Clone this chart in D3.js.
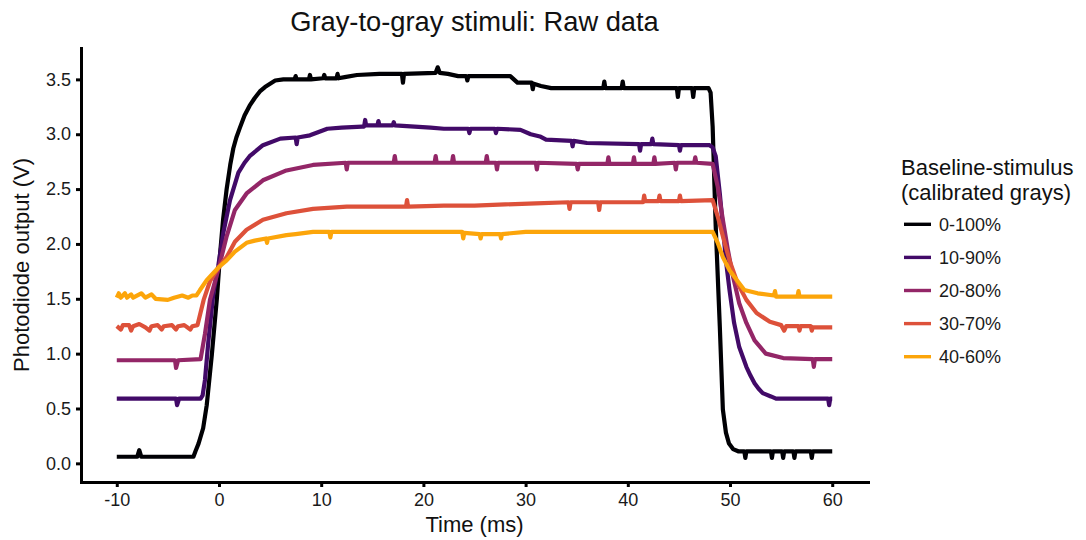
<!DOCTYPE html>
<html>
<head>
<meta charset="utf-8">
<script src="https://cdn.jsdelivr.net/npm/d3@7"></script>
<style>
  body { margin: 0; background: #fff; }
  text { font-family: "Liberation Sans", Arial, sans-serif; }
</style>
</head>
<body>
<script>

// series names + colours (inferno, 0 to 0.8)
var groups = ["0-100%", "10-90%", "20-80%", "30-70%", "40-60%"];
var colors = ["#000004", "#420A68", "#932667", "#DD513A", "#FCA50A"];

var xTicks = [-10, 0, 10, 20, 30, 40, 50, 60];
var xTickLabels = ["-10", "0", "10", "20", "30", "40", "50", "60"];
var yTicks = [0, 0.5, 1, 1.5, 2, 2.5, 3, 3.5];
var yTickLabels = ["0.0", "0.5", "1.0", "1.5", "2.0", "2.5", "3.0", "3.5"];

// [time (ms), output (V)]
var d0_100 = [[-10,0.06],[-8.0,0.06],[-7.8,0.12],[-7.6,0.06],[-2.5,0.06],[-2.3,0.11],[-2.0,0.18],[-1.55,0.32],[-1.2,0.53],[-0.7,0.99],[-0.2,1.51],[0.1,1.90],[0.4,2.22],[0.75,2.50],[1.1,2.72],[1.4,2.87],[1.7,2.97],[2.05,3.06],[2.5,3.17],[3.0,3.26],[3.5,3.33],[4.0,3.39],[4.5,3.43],[5.0,3.46],[5.5,3.49],[6.3,3.50],[7.4,3.50],[7.5,3.53],[7.6,3.50],[8.8,3.50],[8.9,3.54],[9.0,3.50],[10.2,3.51],[10.3,3.54],[10.4,3.51],[11.5,3.51],[11.6,3.55],[11.7,3.51],[12.3,3.52],[13.5,3.54],[15.7,3.55],[17.9,3.55],[18.0,3.47],[18.1,3.55],[21.2,3.56],[21.4,3.61],[21.6,3.56],[22.4,3.55],[23.4,3.53],[24.2,3.53],[24.3,3.49],[24.4,3.53],[28.5,3.53],[29.2,3.47],[30.6,3.47],[30.7,3.41],[30.8,3.46],[31.5,3.44],[32.5,3.42],[37.6,3.42],[37.7,3.48],[37.8,3.42],[39.4,3.42],[39.5,3.48],[39.6,3.42],[44.8,3.42],[44.9,3.34],[45.0,3.42],[46.3,3.42],[46.4,3.34],[46.5,3.42],[47.9,3.42],[48.1,3.38],[48.3,3.07],[48.6,2.16],[49.0,1.25],[49.3,0.49],[49.6,0.28],[49.9,0.18],[50.3,0.13],[50.8,0.11],[51.4,0.11],[51.5,0.05],[51.6,0.11],[54.0,0.11],[54.1,0.05],[54.2,0.11],[55.1,0.11],[55.2,0.05],[55.3,0.11],[56.2,0.11],[56.3,0.05],[56.4,0.11],[57.9,0.11],[58.0,0.05],[58.1,0.11],[60,0.11]];

var d10_90 = [[-10,0.59],[-4.2,0.59],[-4.1,0.53],[-3.9,0.59],[-1.8,0.59],[-1.6,0.62],[-1.37,0.76],[-1.05,1.10],[-0.55,1.55],[-0.07,1.80],[0.42,2.10],[1.08,2.40],[1.9,2.65],[2.5,2.74],[3.0,2.80],[4.3,2.90],[6.0,2.96],[7.5,2.97],[7.6,2.91],[7.7,2.97],[8.9,2.99],[10.6,3.05],[12.0,3.06],[14.0,3.07],[14.2,3.07],[14.3,3.13],[14.4,3.08],[15.5,3.08],[15.6,3.12],[15.7,3.08],[17.0,3.08],[17.1,3.11],[17.2,3.08],[20.7,3.06],[22.0,3.05],[24.4,3.05],[24.5,3.01],[24.6,3.05],[27.0,3.05],[27.1,3.01],[27.2,3.05],[29.5,3.04],[30.5,3.00],[31.4,2.98],[32.0,2.95],[34.5,2.94],[34.6,2.89],[34.7,2.94],[36.0,2.92],[41.1,2.91],[41.2,2.85],[41.3,2.91],[42.3,2.91],[42.4,2.96],[42.5,2.91],[45.0,2.90],[45.1,2.85],[45.2,2.90],[48.0,2.90],[48.3,2.88],[48.6,2.80],[49.0,2.46],[49.3,2.16],[49.6,1.85],[49.95,1.58],[50.4,1.28],[50.9,1.06],[51.6,0.88],[52.0,0.80],[52.4,0.73],[52.8,0.68],[53.2,0.64],[54.0,0.61],[54.5,0.59],[59.6,0.59],[59.7,0.53],[59.8,0.59],[60,0.59]];

var d20_80 = [[-10,0.94],[-4.3,0.94],[-4.2,0.87],[-4.0,0.94],[-1.8,0.95],[-1.37,1.18],[-0.88,1.49],[0,1.79],[0.75,2.07],[1.56,2.31],[2.7,2.46],[4.3,2.58],[6.6,2.67],[9.2,2.72],[12.4,2.74],[12.5,2.68],[12.6,2.74],[15,2.74],[17.1,2.74],[17.2,2.80],[17.3,2.74],[21.1,2.74],[21.2,2.80],[21.3,2.74],[22.8,2.74],[22.9,2.80],[23.0,2.74],[26.1,2.74],[26.2,2.80],[26.3,2.74],[27.1,2.74],[27.2,2.68],[27.3,2.74],[31.0,2.74],[31.1,2.68],[31.2,2.74],[35.0,2.73],[35.1,2.68],[35.2,2.73],[38.0,2.73],[38.1,2.79],[38.2,2.73],[40.5,2.73],[40.6,2.79],[40.7,2.73],[42.5,2.73],[42.6,2.79],[42.7,2.73],[44.6,2.74],[44.7,2.68],[44.8,2.74],[46.5,2.74],[46.6,2.79],[46.7,2.74],[48.3,2.73],[48.8,2.52],[49.3,2.22],[49.8,1.94],[50.3,1.70],[50.9,1.46],[51.6,1.28],[52.4,1.12],[53.5,1.00],[55.2,0.96],[58.1,0.95],[58.2,0.88],[58.3,0.95],[60,0.95]];

var d30_70 = [[-10,1.25],[-9.6,1.22],[-9.4,1.26],[-8.8,1.26],[-8.6,1.21],[-8.4,1.25],[-7.8,1.27],[-7.2,1.24],[-6.8,1.21],[-6.6,1.25],[-6.0,1.26],[-5.6,1.22],[-5.4,1.25],[-4.6,1.26],[-4.2,1.22],[-4.0,1.25],[-3.4,1.26],[-2.8,1.22],[-2.6,1.25],[-2.1,1.26],[-1.5,1.49],[-0.88,1.66],[0,1.79],[0.75,1.88],[1.56,2.02],[2.7,2.13],[4.3,2.22],[6.6,2.28],[9.2,2.32],[12.5,2.34],[18.3,2.34],[18.4,2.40],[18.5,2.34],[22,2.35],[25,2.35],[28,2.36],[31,2.37],[34.2,2.38],[34.3,2.32],[34.4,2.38],[37.1,2.38],[37.2,2.31],[37.3,2.38],[41.5,2.38],[41.6,2.44],[41.7,2.39],[43.0,2.39],[43.1,2.44],[43.2,2.39],[45.0,2.39],[45.1,2.44],[45.2,2.39],[48.3,2.40],[48.8,2.25],[49.3,2.07],[49.95,1.85],[50.75,1.64],[51.6,1.49],[52.6,1.37],[53.9,1.29],[55.0,1.26],[55.3,1.21],[55.5,1.25],[56.7,1.25],[56.8,1.21],[56.9,1.25],[57.9,1.25],[58.0,1.21],[58.1,1.24],[60,1.24]];

var d40_60 = [[-10,1.51],[-9.8,1.55],[-9.6,1.51],[-9.2,1.55],[-9.0,1.51],[-8.6,1.54],[-8.4,1.51],[-7.6,1.55],[-7.2,1.51],[-6.6,1.54],[-6.2,1.50],[-5.0,1.49],[-4.4,1.51],[-3.6,1.53],[-3.0,1.51],[-2.6,1.53],[-2.2,1.53],[-1.86,1.58],[-1.2,1.67],[-0.5,1.74],[0,1.79],[0.75,1.85],[1.56,1.93],[2.7,2.01],[3.5,2.03],[4.6,2.05],[4.7,2.01],[4.8,2.05],[6.6,2.08],[7.5,2.09],[9.2,2.11],[10.8,2.11],[10.9,2.06],[11.0,2.11],[15,2.11],[20,2.11],[23.8,2.11],[23.9,2.05],[24.0,2.10],[25.5,2.09],[25.6,2.05],[25.7,2.09],[27.5,2.09],[27.6,2.05],[27.7,2.09],[30,2.11],[40,2.11],[48.3,2.11],[48.8,2.01],[49.3,1.88],[49.95,1.76],[50.75,1.66],[51.4,1.58],[52.7,1.55],[54.3,1.53],[54.4,1.57],[54.5,1.52],[56.6,1.52],[56.7,1.57],[56.8,1.52],[60,1.52]];

var seriesData = [d0_100, d10_90, d20_80, d30_70, d40_60];

var W = 1086, H = 540;

var svg = d3.select("body").append("svg")
    .attr("width", W)
    .attr("height", H);

var x = d3.scaleLinear().domain([-13.5, 63.5]).range([81, 868]);
var y = d3.scaleLinear().domain([-0.17, 3.786]).range([482, 48]);

// title
svg.append("text")
    .attr("x", 474.5)
    .attr("y", 31)
    .attr("text-anchor", "middle")
    .style("font-size", "27.3px")
    .attr("fill", "#111")
    .text("Gray-to-gray stimuli: Raw data");

// lines
var line = d3.line()
    .x(function(d) { return x(d[0]); })
    .y(function(d) { return y(d[1]); });

seriesData.forEach(function(s, i) {
  svg.append("path")
      .datum(s)
      .attr("d", line)
      .attr("fill", "none")
      .attr("stroke", colors[i])
      .attr("stroke-width", 4.2)
      .attr("stroke-linejoin", "round")
      .attr("stroke-linecap", "butt");
});

// axes
var gx = svg.append("g")
    .attr("transform", "translate(0,482)")
    .call(d3.axisBottom(x).tickValues(xTicks).tickSize(5).tickSizeOuter(0).tickPadding(6)
      .tickFormat(function(d, i) { return xTickLabels[i]; }));

var gy = svg.append("g")
    .attr("transform", "translate(81,0)")
    .call(d3.axisLeft(y).tickValues(yTicks).tickSize(5).tickSizeOuter(0).tickPadding(5)
      .tickFormat(function(d, i) { return yTickLabels[i]; }));

[gx, gy].forEach(function(g) {
  g.select(".domain").attr("stroke", "#000").attr("stroke-width", 3).attr("stroke-linecap", "square");
  g.selectAll(".tick line").attr("stroke", "#000").attr("stroke-width", 3);
  g.selectAll(".tick text")
      .attr("fill", "#1a1a1a")
      .style("font-size", "18px")
      .style("font-family", "'Liberation Sans', Arial, sans-serif");
});

// axis titles
svg.append("text")
    .attr("x", 474.5)
    .attr("y", 532)
    .attr("text-anchor", "middle")
    .style("font-size", "22px")
    .attr("fill", "#111")
    .text("Time (ms)");

svg.append("text")
    .attr("transform", "translate(29,265) rotate(-90)")
    .attr("text-anchor", "middle")
    .style("font-size", "22px")
    .attr("fill", "#111")
    .text("Photodiode output (V)");

// legend
var lg = svg.append("g");

lg.append("text")
    .attr("x", 901)
    .attr("y", 175)
    .style("font-size", "22px")
    .attr("fill", "#111")
    .text("Baseline-stimulus");

lg.append("text")
    .attr("x", 901)
    .attr("y", 200)
    .style("font-size", "22px")
    .attr("fill", "#111")
    .text("(calibrated grays)");

groups.forEach(function(g, i) {
  var ky = 224.3 + i * 33.1;
  lg.append("line")
      .attr("x1", 904).attr("x2", 931)
      .attr("y1", ky).attr("y2", ky)
      .attr("stroke", colors[i])
      .attr("stroke-width", 3.4);
  lg.append("text")
      .attr("x", 939)
      .attr("y", ky)
      .attr("dy", "0.36em")
      .style("font-size", "18px")
      .attr("fill", "#1a1a1a")
      .text(g);
});

</script>
</body>
</html>
